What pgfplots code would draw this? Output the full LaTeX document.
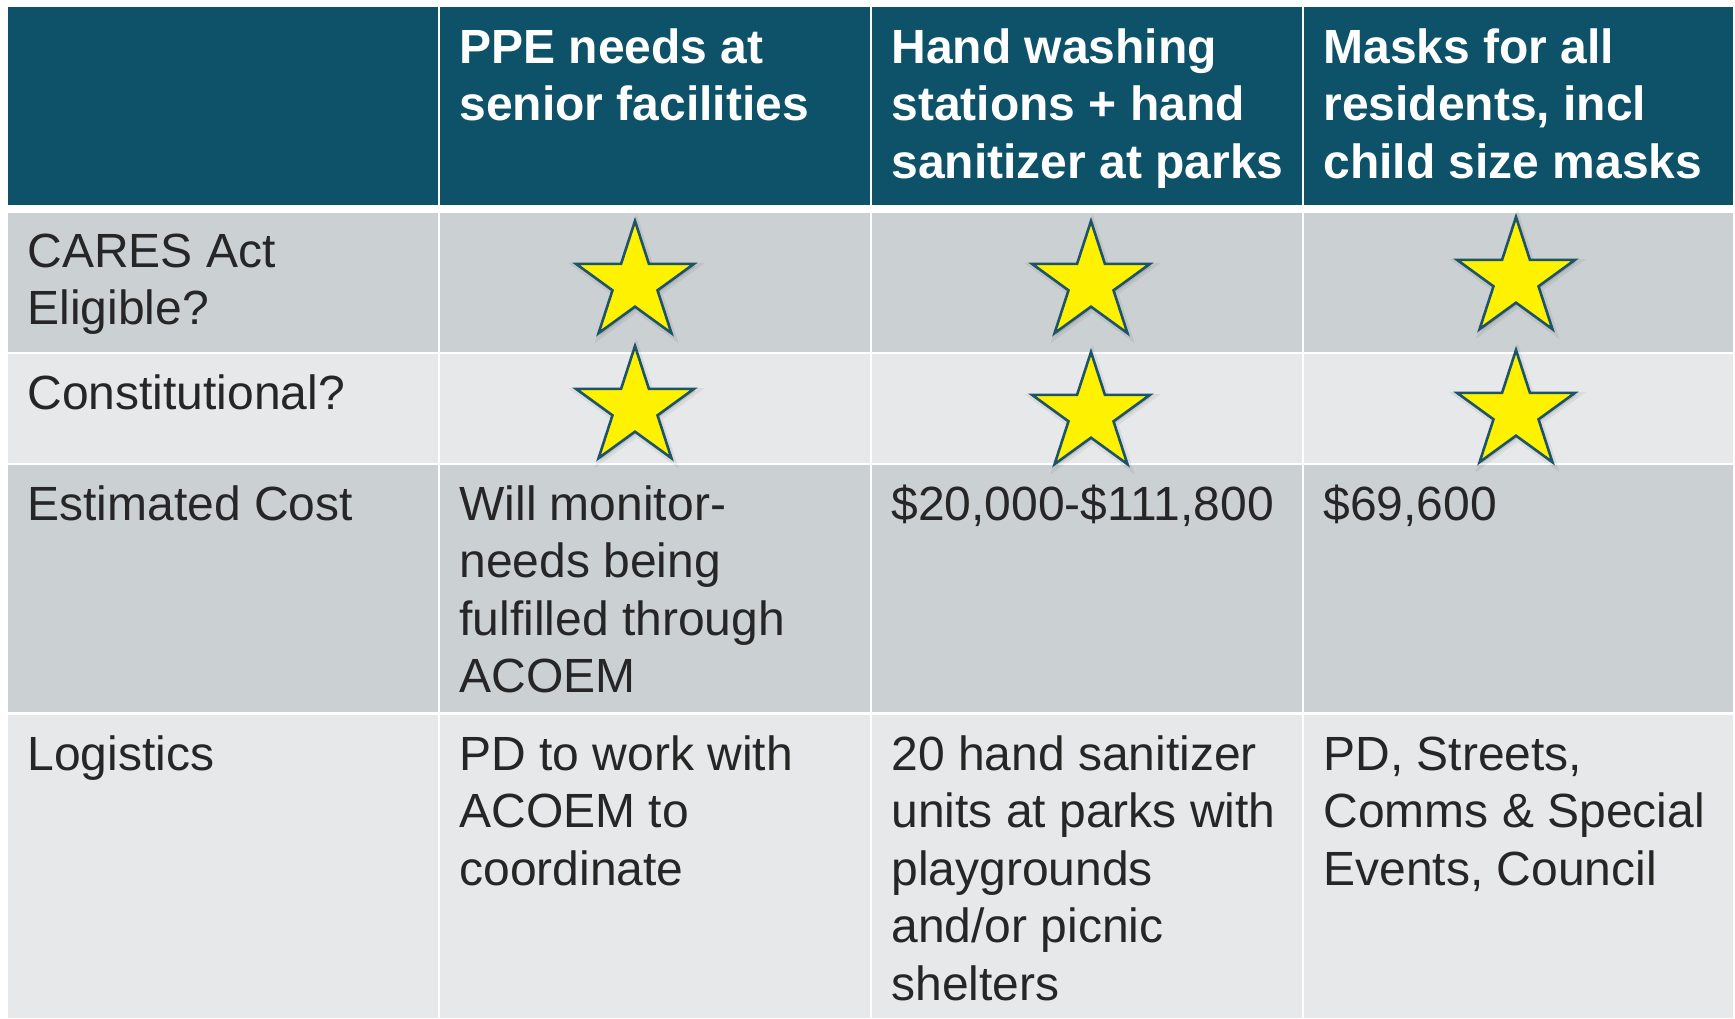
\documentclass[border=0pt]{standalone}
\usepackage{pgfplots}
\pgfplotsset{compat=1.18}
\usepackage{fontspec}
\setmainfont{Liberation Sans}
\definecolor{hdr}{HTML}{0D5268}
\definecolor{rowA}{HTML}{CBD0D3}
\definecolor{rowB}{HTML}{E7E8EA}
\definecolor{txt}{HTML}{262626}
\definecolor{starline}{HTML}{1D5468}
\pgfdeclareplotmark{fstar}{%
  \pgfpathmoveto{\pgfqpointpolar{90}{\pgfplotmarksize}}%
  \pgfpathlineto{\pgfqpointpolar{126}{0.382\pgfplotmarksize}}%
  \pgfpathlineto{\pgfqpointpolar{162}{\pgfplotmarksize}}%
  \pgfpathlineto{\pgfqpointpolar{198}{0.382\pgfplotmarksize}}%
  \pgfpathlineto{\pgfqpointpolar{234}{\pgfplotmarksize}}%
  \pgfpathlineto{\pgfqpointpolar{270}{0.382\pgfplotmarksize}}%
  \pgfpathlineto{\pgfqpointpolar{306}{\pgfplotmarksize}}%
  \pgfpathlineto{\pgfqpointpolar{342}{0.382\pgfplotmarksize}}%
  \pgfpathlineto{\pgfqpointpolar{18}{\pgfplotmarksize}}%
  \pgfpathlineto{\pgfqpointpolar{54}{0.382\pgfplotmarksize}}%
  \pgfpathclose
  \pgfusepathqfillstroke}
\newcommand{\cellbg}[5]{\addplot[fill=#5, draw=none] coordinates {(#1,#3) (#2,#3) (#2,#4) (#1,#4)};}
\newcommand{\hl}[3]{\node[anchor=base west, inner sep=0pt, text=white, font=\fontsize{24}{28}\selectfont\bfseries] at (axis cs:#1,#2) {#3};}
\newcommand{\bl}[3]{\node[anchor=base west, inner sep=0pt, text=txt, font=\fontsize{24}{28}\selectfont] at (axis cs:#1,#2) {#3};}
\begin{document}
\begin{tikzpicture}
\begin{axis}[
  width=867.5pt, height=509pt, scale only axis,
  xmin=0, xmax=1735, ymin=0, ymax=1018, y dir=reverse,
  hide axis, clip=false,
]
% background
\cellbg{0}{1735}{0}{1018}{white}
% header
\cellbg{8}{438}{7}{205}{hdr}
\cellbg{440}{870}{7}{205}{hdr}
\cellbg{872}{1302}{7}{205}{hdr}
\cellbg{1304}{1733}{7}{205}{hdr}
% row 1
\cellbg{8}{438}{213}{352}{rowA}
\cellbg{440}{870}{213}{352}{rowA}
\cellbg{872}{1302}{213}{352}{rowA}
\cellbg{1304}{1733}{213}{352}{rowA}
% row 2
\cellbg{8}{438}{354}{463}{rowB}
\cellbg{440}{870}{354}{463}{rowB}
\cellbg{872}{1302}{354}{463}{rowB}
\cellbg{1304}{1733}{354}{463}{rowB}
% row 3
\cellbg{8}{438}{465}{712}{rowA}
\cellbg{440}{870}{465}{712}{rowA}
\cellbg{872}{1302}{465}{712}{rowA}
\cellbg{1304}{1733}{465}{712}{rowA}
% row 4
\cellbg{8}{438}{715}{1018}{rowB}
\cellbg{440}{870}{715}{1018}{rowB}
\cellbg{872}{1302}{715}{1018}{rowB}
\cellbg{1304}{1733}{715}{1018}{rowB}
% star shadows (soft)
\addplot[only marks, mark=fstar, mark size=31pt, mark options={draw=black, draw opacity=0.06, line width=3pt, fill=black, fill opacity=0.1},
  every mark/.append style={xshift=0.8pt, yshift=-1.2pt}]
  coordinates {(635,283) (1091,283) (1516,279) (635,408) (1091,414) (1516,412)};
% stars
\addplot[only marks, mark=fstar, mark size=31pt, mark options={draw=starline, fill=yellow, line width=1.3pt, miter limit=10}]
  coordinates {(635,283) (1091,283) (1516,279) (635,408) (1091,414) (1516,412)};
% header text
\hl{459}{63}{PPE needs at}
\hl{459}{120.5}{senior facilities}
\hl{891}{63}{Hand washing}
\hl{891}{120.5}{stations + hand}
\hl{891}{178}{sanitizer at parks}
\hl{1323}{63}{Masks for all}
\hl{1323}{120.5}{residents, incl}
\hl{1323}{178}{child size masks}
% first column
\bl{27}{267}{CARES Act}
\bl{27}{324.5}{Eligible?}
\bl{27}{409}{Constitutional?}
\bl{27}{520}{Estimated Cost}
\bl{27}{770}{Logistics}
% row 3
\bl{459}{520}{Will monitor-}
\bl{459}{577.5}{needs being}
\bl{459}{635}{fulfilled through}
\bl{459}{692.5}{ACOEM}
\bl{891}{520}{\$20,000-\$111,800}
\bl{1323}{520}{\$69,600}
% row 4
\bl{459}{770}{PD to work with}
\bl{459}{827.5}{ACOEM to}
\bl{459}{885}{coordinate}
\bl{891}{770}{20 hand sanitizer}
\bl{891}{827.5}{units at parks with}
\bl{891}{885}{playgrounds}
\bl{891}{942.5}{and/or picnic}
\bl{891}{1000}{shelters}
\bl{1323}{770}{PD, Streets,}
\bl{1323}{827.5}{Comms \& Special}
\bl{1323}{885}{Events, Council}
\end{axis}
\end{tikzpicture}
\end{document}
